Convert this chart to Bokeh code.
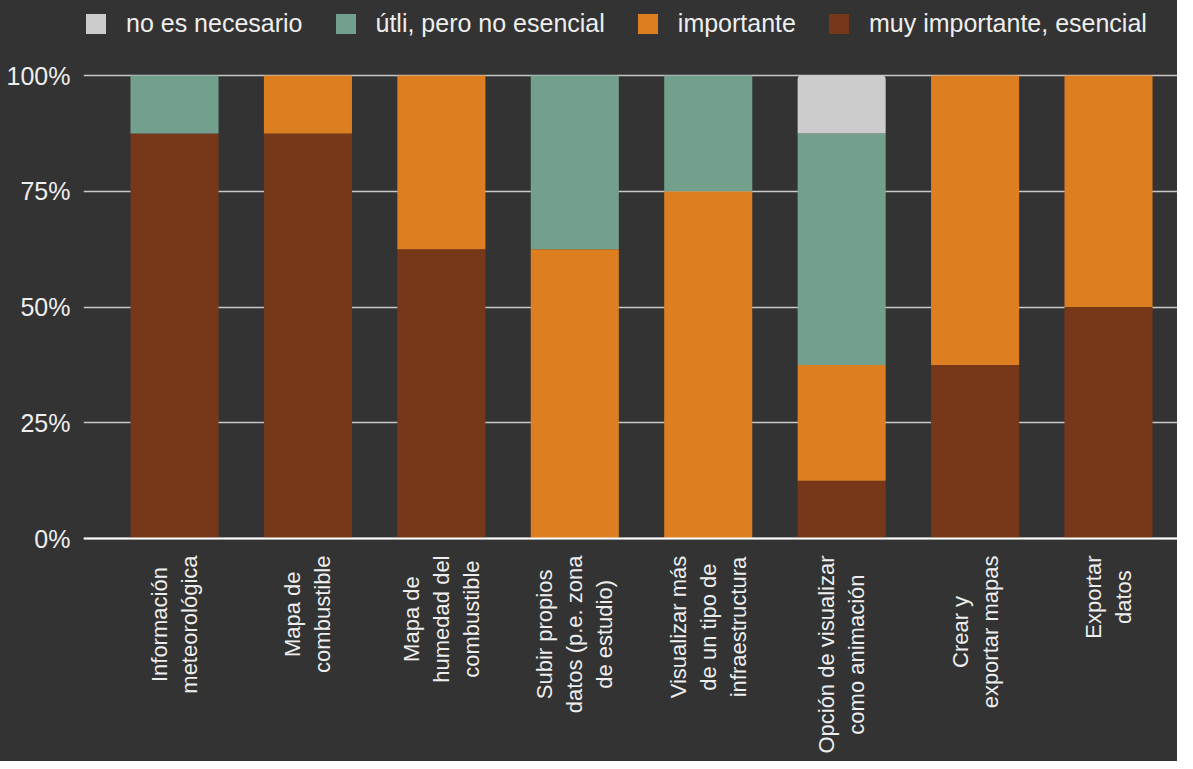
import math
from bokeh.plotting import figure
from bokeh.models import Range1d, FixedTicker, NumeralTickFormatter, Legend, LegendItem, Span
from bokeh.core.properties import value
from bokeh.embed import file_html
from bokeh.resources import INLINE

categories = [
    "Información\nmeteorológica",
    "Mapa de\ncombustible",
    "Mapa de\nhumedad del\ncombustible",
    "Subir propios\ndatos (p.e. zona\nde estudio)",
    "Visualizar más\nde un tipo de\ninfraestructura",
    "Opción de visualizar\ncomo animación",
    "Crear y\nexportar mapas",
    "Exportar\ndatos",
]
muy_importante = [0.875, 0.875, 0.625, 0.0, 0.0, 0.125, 0.375, 0.5]
importante = [0.0, 0.125, 0.375, 0.625, 0.75, 0.25, 0.625, 0.5]
util = [0.125, 0.0, 0.0, 0.375, 0.25, 0.5, 0.0, 0.0]
no_necesario = [0.0, 0.0, 0.0, 0.0, 0.0, 0.125, 0.0, 0.0]

series = ["muy importante, esencial", "importante", "útli, pero no esencial", "no es necesario"]
colors = ["#77381a", "#dd7f20", "#73a08c", "#cccccc"]
y_ticks = [0, 0.25, 0.5, 0.75, 1.0]

BG = "#333333"
TXT = "#eeeeee"
FONT = "Liberation Sans"
LABEL_PX = 22

# Arial / Liberation Sans advance widths (per 1000 em) to centre multi-line labels
ADV = {" ": 278, "(": 333, ")": 333, ".": 278, "a": 556, "b": 556, "c": 500, "d": 556,
       "e": 556, "f": 278, "g": 556, "h": 556, "i": 222, "l": 222, "m": 833, "n": 556,
       "o": 556, "p": 556, "r": 333, "s": 500, "t": 278, "u": 556, "v": 500, "x": 500,
       "y": 500, "z": 500, "á": 556, "ó": 556, "C": 722, "E": 667, "I": 278, "M": 833,
       "O": 778, "S": 667, "V": 667}


def block_width(label):
    return max(sum(ADV.get(ch, 556) for ch in line) for line in label.split("\n")) * LABEL_PX / 1000


idx = list(range(len(categories)))
data = {"x": idx, series[0]: muy_importante, series[1]: importante,
        series[2]: util, series[3]: no_necesario}
label_data = {"x": idx, "y": [0.0] * len(idx), "text": categories,
              "off": [17 + block_width(c) / 2 for c in categories]}

p = figure(width=1177, height=761, output_backend="svg", toolbar_location=None,
           x_range=Range1d(-0.682, 7.517), y_range=Range1d(-0.4816, 1.162),
           background_fill_color=BG, border_fill_color=BG,
           min_border_left=83, min_border_right=0, min_border_top=0,
           min_border_bottom=0, styles={"background-color": BG})
p.outline_line_color = None

renderers = p.vbar_stack(series, x="x", width=0.66, color=colors, line_color=None, source=data)
renderers[3].glyph.border_radius = (4, 4, 0, 0)

p.xgrid.visible = False
p.ygrid.ticker = FixedTicker(ticks=y_ticks)
p.ygrid.grid_line_color = "#c8c8c8"
p.ygrid.grid_line_width = 1.5
p.add_layout(Span(location=0, dimension="width", line_color="#ffffff", line_width=2))

p.yaxis.ticker = FixedTicker(ticks=y_ticks)
p.yaxis.formatter = NumeralTickFormatter(format="0%")
p.yaxis.axis_line_color = None
p.yaxis.major_tick_line_color = None
p.yaxis.minor_tick_line_color = None
p.yaxis.major_label_text_color = TXT
p.yaxis.major_label_text_font = FONT
p.yaxis.major_label_text_font_size = "25px"
p.yaxis.major_label_standoff = 7

p.xaxis.visible = False

p.text(x="x", y="y", text="text", source=label_data, angle=math.pi / 2,
       text_align="center", text_baseline="middle", anchor="center",
       y_offset="off", text_color=TXT, text_font=value(FONT), text_font_size=f"{LABEL_PX}px")

items = [LegendItem(label=series[i], renderers=[renderers[i]]) for i in [3, 2, 1, 0]]
legend = Legend(items=items, orientation="horizontal", location=(0, 723),
                background_fill_alpha=0, border_line_color=None,
                label_text_color=TXT, label_text_font=FONT, label_text_font_size="25px",
                glyph_width=25, glyph_height=25, label_standoff=18, spacing=30,
                padding=4, margin=0)
p.add_layout(legend, "center")

open("out.html", "w").write(file_html(p, INLINE))
